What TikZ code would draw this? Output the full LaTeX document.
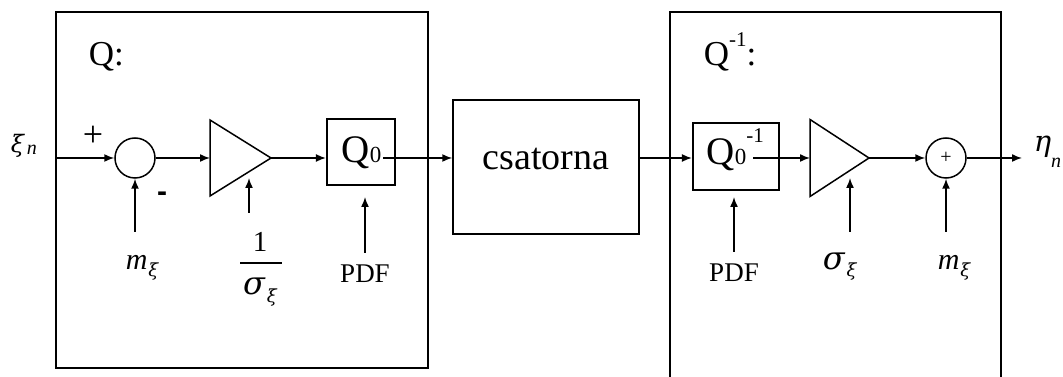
\documentclass[tikz,border=0pt]{standalone}
\usepackage{fontspec}
\setmainfont{Liberation Serif}
\setsansfont{Liberation Sans}
\newfontfamily\grk{DejaVu Serif}
\usetikzlibrary{arrows.meta}
\newcommand{\smtxt}[1]{\fontsize{#1bp}{#1bp}\selectfont}

\begin{document}
\begin{tikzpicture}[>={Latex[length=10bp,width=8bp]},line join=miter,line width=1.5bp,
  txt/.style={inner sep=0pt,font=\smtxt{#1}},
  blk/.style={draw,inner sep=0pt},
  summer/.style={draw,circle,minimum size=40bp,inner sep=0pt}]
%%
\useasboundingbox (0bp,0bp) rectangle (1063bp,377bp);
% frames
\node (node_Q) at (242bp,187bp) [blk,minimum width=372bp,minimum height=356bp] {};
\draw (670bp,-5bp) |- (1001bp,365bp) -- (1001bp,-5bp);
\node (node_Qlbl) at (88bp,311bp) [txt=35,anchor=base west] {Q:};
\node (node_Qilbl) at (703bp,311bp) [txt=35,anchor=base west] {Q\raisebox{19bp}{\smtxt{21}-1}:};
% Q
\node (node_xi) at (10bp,224bp) [txt=24,anchor=base west] {{\grk\itshape ξ}\hspace{3bp}\raisebox{-2bp}{\smtxt{20}\textit{n}}};
\node (node_sum1) at (135bp,219bp) [summer] {};
\node (node_plus) at (93bp,241bp) [txt=36] {+};
\node (node_minus) at (162bp,180bp) [txt=30] {\sffamily\bfseries -};
\node (node_m1) at (125bp,107bp) [txt=30,anchor=base west] {\textit{m}\hspace{1bp}\raisebox{-7bp}{\smtxt{18}\grk\itshape ξ}};
\coordinate (c_m1) at (135bp,145bp);
\coordinate (amp1_in) at (210bp,219bp);
\coordinate (amp1_out) at (271bp,219bp);
\draw ([yshift=38bp]amp1_in) -- (amp1_out) -- ([yshift=-38bp]amp1_in) -- cycle;
\coordinate (c_g1) at (249bp,164bp);
\coordinate (c_g1t) at (249bp,199bp);
\node (node_g1n) at (260bp,125bp) [txt=29,anchor=base] {1};
\node (node_g1d) at (260bp,82bp) [txt=32,anchor=base] {{\grk\itshape σ}\hspace{2bp}\raisebox{-8bp}{\smtxt{18}\grk\itshape ξ}};
\draw [line width=1.3bp] (240bp,114bp) -- (282bp,114bp);
\node (node_Q0) at (361bp,225bp) [blk,line width=2.2bp,minimum width=68bp,minimum height=66bp] {};
\node (node_Q0txt) at (341bp,214bp) [txt=39,anchor=base west] {Q\smtxt{23}0};
\coordinate (c_q0out) at (383bp,219bp);
\node (node_pdf1) at (365bp,94bp) [txt=27,anchor=base] {PDF};
\coordinate (c_pdf1) at (365bp,124bp);
\coordinate (c_pdf1t) at (365bp,180bp);
% channel
\node (node_ch) at (546bp,210bp) [blk,minimum width=186bp,minimum height=134bp] {};
\node (node_chtxt) at (546bp,207bp) [txt=38,anchor=base] {csatorna};
% Q^-1
\node (node_Qi0) at (736bp,220.5bp) [blk,line width=2.2bp,minimum width=86bp,minimum height=67bp] {};
\node (node_Qi0txt) at (706bp,212bp) [txt=39,anchor=base west] {Q\smtxt{23}0\raisebox{22bp}{\smtxt{21}-1}};
\coordinate (c_qi0out) at (753bp,219bp);
\node (node_pdf2) at (734bp,95bp) [txt=27,anchor=base] {PDF};
\coordinate (c_pdf2) at (734bp,125bp);
\coordinate (c_pdf2t) at (734bp,180bp);
\coordinate (amp2_in) at (810bp,219bp);
\coordinate (amp2_out) at (869bp,219bp);
\draw ([yshift=38.5bp]amp2_in) -- (amp2_out) -- ([yshift=-38.5bp]amp2_in) -- cycle;
\coordinate (c_g2) at (850bp,145bp);
\coordinate (c_g2t) at (850bp,199bp);
\node (node_g2) at (822bp,107bp) [txt=32,anchor=base west] {{\grk\itshape σ}\hspace{2bp}\raisebox{-7bp}{\smtxt{18}\grk\itshape ξ}};
\node (node_sum2) at (946bp,219bp) [summer] {\smtxt{20}+};
\coordinate (c_m2) at (946bp,145bp);
\node (node_m2) at (937bp,107bp) [txt=30,anchor=base west] {\textit{m}\hspace{1bp}\raisebox{-7bp}{\smtxt{18}\grk\itshape ξ}};
\coordinate (c_out) at (1022bp,219bp);
\node (node_eta) at (1033bp,225bp) [txt=29,anchor=base west] {{\grk\itshape η}\raisebox{-16bp}{\smtxt{20}\textit{n}}};
% connectors
\draw [->] (node_Q.west |- node_sum1) -- (node_sum1);
\draw [->] (c_m1) -- (node_sum1.south);
\draw [->] (node_sum1) -- (amp1_in);
\draw [->] (c_g1) -- (c_g1t);
\draw [->] (amp1_out) -- (amp1_out -| node_Q0.west);
\draw [->] (c_pdf1) -- (c_pdf1t);
\draw [->] (c_q0out) -- (c_q0out -| node_ch.west);
\draw [->] (node_ch.east |- c_q0out) -- (c_q0out -| node_Qi0.west);
\draw [->] (c_qi0out) -- (amp2_in);
\draw [->] (c_pdf2) -- (c_pdf2t);
\draw [->] (c_g2) -- (c_g2t);
\draw [->] (amp2_out) -- (node_sum2);
\draw [->] (c_m2) -- (node_sum2.south);
\draw [->] (node_sum2) -- (c_out);
%
\end{tikzpicture}
\end{document}
